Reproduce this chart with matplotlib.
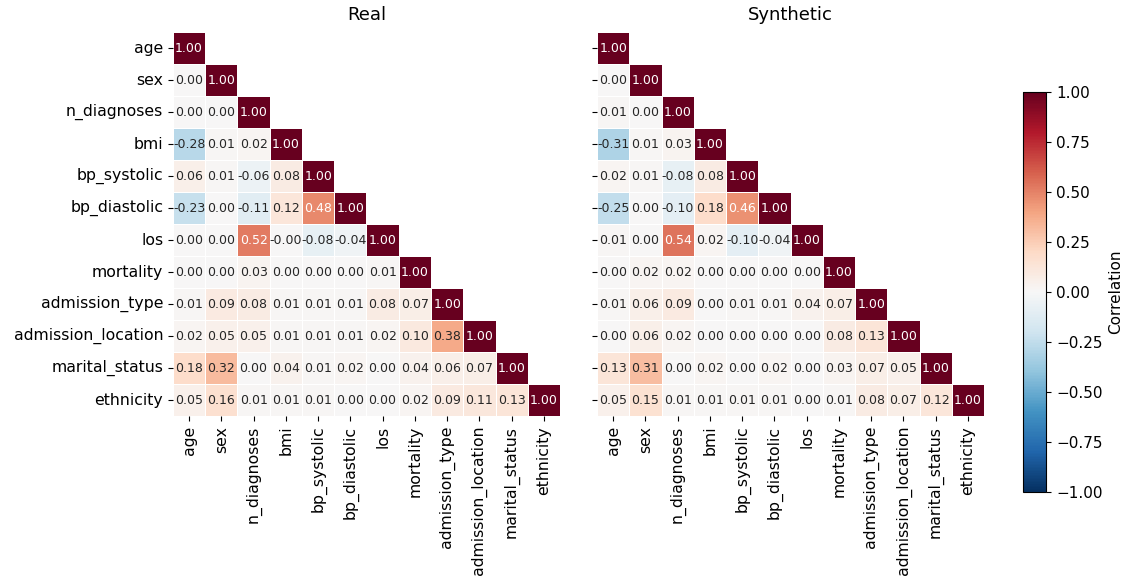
import numpy as np
import matplotlib
matplotlib.use("Agg")
import matplotlib.pyplot as plt
import seaborn as sns

features = ["age", "sex", "n_diagnoses", "bmi", "bp_systolic", "bp_diastolic",
            "los", "mortality", "admission_type", "admission_location",
            "marital_status", "ethnicity"]

# lower triangle rows (diagonal included)
real_rows = [
    [1.00],
    [0.00, 1.00],
    [0.00, 0.00, 1.00],
    [-0.28, 0.01, 0.02, 1.00],
    [0.06, 0.01, -0.06, 0.08, 1.00],
    [-0.23, 0.00, -0.11, 0.12, 0.48, 1.00],
    [0.00, 0.00, 0.52, -0.00, -0.08, -0.04, 1.00],
    [0.00, 0.00, 0.03, 0.00, 0.00, 0.00, 0.01, 1.00],
    [0.01, 0.09, 0.08, 0.01, 0.01, 0.01, 0.08, 0.07, 1.00],
    [0.02, 0.05, 0.05, 0.01, 0.01, 0.01, 0.02, 0.10, 0.38, 1.00],
    [0.18, 0.32, 0.00, 0.04, 0.01, 0.02, 0.00, 0.04, 0.06, 0.07, 1.00],
    [0.05, 0.16, 0.01, 0.01, 0.01, 0.00, 0.00, 0.02, 0.09, 0.11, 0.13, 1.00],
]

synth_rows = [
    [1.00],
    [0.00, 1.00],
    [0.01, 0.00, 1.00],
    [-0.31, 0.01, 0.03, 1.00],
    [0.02, 0.01, -0.08, 0.08, 1.00],
    [-0.25, 0.00, -0.10, 0.18, 0.46, 1.00],
    [0.01, 0.00, 0.54, 0.02, -0.10, -0.04, 1.00],
    [0.00, 0.02, 0.02, 0.00, 0.00, 0.00, 0.00, 1.00],
    [0.01, 0.06, 0.09, 0.00, 0.01, 0.01, 0.04, 0.07, 1.00],
    [0.00, 0.06, 0.02, 0.00, 0.00, 0.00, 0.00, 0.08, 0.13, 1.00],
    [0.13, 0.31, 0.00, 0.02, 0.00, 0.02, 0.00, 0.03, 0.07, 0.05, 1.00],
    [0.05, 0.15, 0.01, 0.01, 0.01, 0.01, 0.00, 0.01, 0.08, 0.07, 0.12, 1.00],
]


def to_matrix(rows):
    n = len(rows)
    m = np.zeros((n, n))
    for i, r in enumerate(rows):
        for j, v in enumerate(r):
            m[i, j] = v
            m[j, i] = v
    return m


fig = plt.figure(figsize=(11.35, 5.82), dpi=100)
ax1 = fig.add_axes([0.1524, 0.285, 0.341, 0.66])
ax2 = fig.add_axes([0.526, 0.285, 0.341, 0.66])
cax = fig.add_axes([0.901, 0.155, 0.021, 0.687])

mask = np.triu(np.ones((len(features), len(features)), dtype=bool), k=1)

for ax, rows, title, show_y in [(ax1, real_rows, "Real", True),
                                (ax2, synth_rows, "Synthetic", False)]:
    corr = to_matrix(rows)
    sns.heatmap(corr, mask=mask, cmap="RdBu_r", vmin=-1, vmax=1, center=0,
                annot=True, fmt=".2f", annot_kws={"size": 9},
                linewidths=0.5, linecolor="white", square=False,
                cbar=False, ax=ax,
                xticklabels=features,
                yticklabels=features if show_y else False)
    ax.set_title(title, fontsize=13, pad=9)
    ax.tick_params(axis="x", labelsize=11.3, rotation=90)
    ax.tick_params(axis="y", labelsize=11.3, rotation=0)
    if not show_y:
        ax.set_yticks(np.arange(len(features)) + 0.5)
        ax.set_yticklabels([])

sm = plt.cm.ScalarMappable(cmap="RdBu_r", norm=plt.Normalize(-1, 1))
cb = fig.colorbar(sm, cax=cax)
cb.set_label("Correlation", fontsize=11)
cb.set_ticks([-1, -0.75, -0.5, -0.25, 0, 0.25, 0.5, 0.75, 1])
cb.ax.tick_params(labelsize=11)

fig.savefig("out.png", dpi=100)
